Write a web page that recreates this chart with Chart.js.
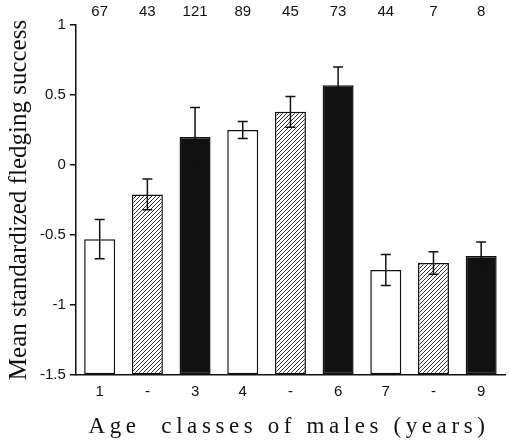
<!DOCTYPE html>
<html>
<head>
<meta charset="utf-8">
<script src="https://cdn.jsdelivr.net/npm/chart.js@4/dist/chart.umd.min.js"></script>
<style>
  html, body { margin: 0; padding: 0; background: #fff; }
  #wrap { width: 510px; height: 446px; }
</style>
</head>
<body>
<div id="wrap"><canvas id="chart"></canvas></div>
<script>
// data
const ageLabels = ['1', '-', '3', '4', '-', '6', '7', '-', '9'];
const means = [-0.53, -0.21, 0.20, 0.25, 0.38, 0.57, -0.75, -0.70, -0.65];
const errors = [0.14, 0.11, 0.21, 0.06, 0.11, 0.13, 0.11, 0.08, 0.10];
const sampleSizes = [67, 43, 121, 89, 45, 73, 44, 7, 8];
const yTicks = [1, 0.5, 0, -0.5, -1, -1.5];
const yMin = -1.5, yMax = 1;

// diagonal hatch for the middle bar of each group
function makeHatch() {
  const c = document.createElement('canvas');
  c.width = 4; c.height = 4;
  const g = c.getContext('2d');
  g.fillStyle = '#fff';
  g.fillRect(0, 0, 4, 4);
  g.strokeStyle = '#333';
  g.lineWidth = 1;
  g.beginPath();
  g.moveTo(0, 4); g.lineTo(4, 0);
  g.moveTo(-1, 1); g.lineTo(1, -1);
  g.moveTo(3, 5); g.lineTo(5, 3);
  g.stroke();
  return g.createPattern(c, 'repeat');
}
const hatch = makeHatch();
const fills = ageLabels.map((_, i) => ['#fff', hatch, '#111'][i % 3]);

const errorBars = {
  id: 'errorBars',
  afterDatasetsDraw(chart) {
    const ctx = chart.ctx;
    const y = chart.scales.y;
    const meta = chart.getDatasetMeta(0);
    ctx.save();
    ctx.strokeStyle = '#111';
    ctx.lineWidth = 1.5;
    meta.data.forEach((bar, i) => {
      const top = y.getPixelForValue(means[i] + errors[i]);
      const bot = y.getPixelForValue(means[i] - errors[i]);
      ctx.beginPath();
      ctx.moveTo(bar.x, top); ctx.lineTo(bar.x, bot);
      ctx.moveTo(bar.x - 5, top); ctx.lineTo(bar.x + 5, top);
      ctx.moveTo(bar.x - 5, bot); ctx.lineTo(bar.x + 5, bot);
      ctx.stroke();
    });
    // sample sizes above the plot
    ctx.fillStyle = '#111';
    ctx.font = '15px "Liberation Sans", Arial, sans-serif';
    ctx.textAlign = 'center';
    ctx.textBaseline = 'middle';
    meta.data.forEach((bar, i) => {
      ctx.fillText(String(sampleSizes[i]), bar.x, 12);
    });
    // spaced-out x title
    ctx.font = '23px "Liberation Serif", "Times New Roman", serif';
    ctx.letterSpacing = '4.6px';
    ctx.fillText('Age  classes of males (years)', 289, 427);
    ctx.restore();
  }
};

new Chart(document.getElementById('chart'), {
  type: 'bar',
  data: {
    labels: ageLabels,
    datasets: [{
      data: means,
      base: yMin,
      backgroundColor: fills,
      borderColor: '#111',
      borderWidth: 1.5,
      borderSkipped: false,
      categoryPercentage: 1,
      barPercentage: 0.65
    }]
  },
  options: {
    responsive: true,
    maintainAspectRatio: false,
    animation: false,
    layout: { padding: { top: 25, right: 5, bottom: 45, left: 4 } },
    plugins: { legend: { display: false }, tooltip: { enabled: false } },
    scales: {
      x: {
        grid: { display: false },
        border: { display: true, color: '#111', width: 1.5 },
        ticks: { color: '#111', padding: 0, font: { size: 15, family: '"Liberation Sans", Arial, sans-serif' } }
      },
      y: {
        min: yMin,
        max: yMax,
        afterBuildTicks(scale) { scale.ticks = yTicks.map(v => ({ value: v })); },
        grid: { drawOnChartArea: false, drawTicks: true, tickLength: 6, color: '#111', lineWidth: 1.5 },
        border: { display: true, color: '#111', width: 1.5 },
        ticks: {
          color: '#111',
          padding: 4,
          font: { size: 15, family: '"Liberation Sans", Arial, sans-serif' },
          callback: v => String(v)
        },
        title: {
          display: true,
          text: 'Mean standardized fledging success',
          color: '#111',
          padding: { top: 0, bottom: 2 },
          font: { size: 25, family: '"Liberation Serif", "Times New Roman", serif' }
        }
      }
    }
  },
  plugins: [errorBars]
});
</script>
</body>
</html>
